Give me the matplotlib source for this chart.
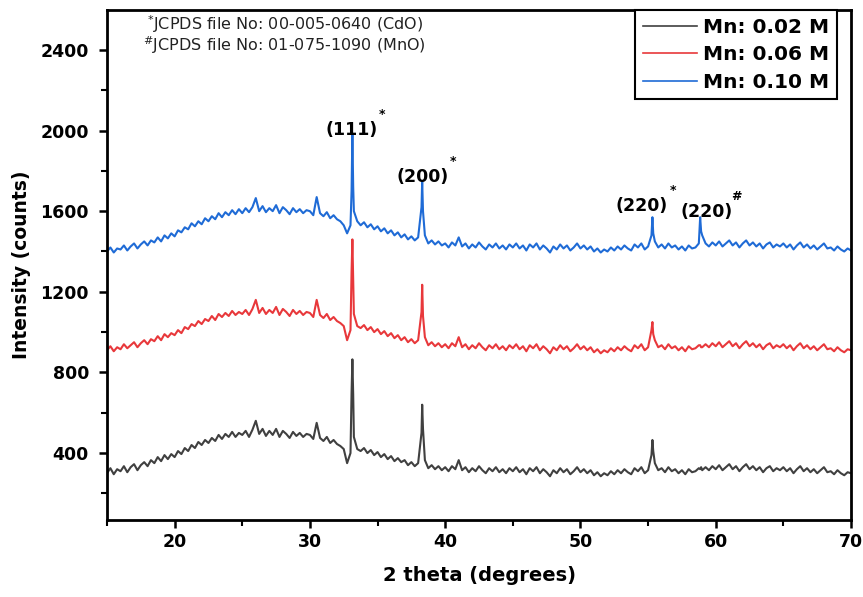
import numpy as np
import matplotlib
matplotlib.use("Agg")
import matplotlib.pyplot as plt
from matplotlib.ticker import MultipleLocator

# ---------------- data ----------------
two_theta_start = 15.0
two_theta_step = 0.25

blue_010 = [
    1400, 1420, 1395, 1415, 1410, 1430, 1405, 1425, 1440, 1415, 1435, 1450, 1430, 1455, 1445, 1470, 1450, 1480, 1465, 1490,
    1475, 1505, 1495, 1520, 1510, 1540, 1525, 1550, 1535, 1565, 1550, 1575, 1560, 1590, 1570, 1595, 1580, 1605, 1585, 1610,
    1590, 1615, 1595, 1620, 1665, 1600, 1625, 1595, 1615, 1600, 1630, 1590, 1620, 1605, 1585, 1615, 1595, 1610, 1590, 1605,
    1600, 1580, 1670, 1590, 1575, 1595, 1565, 1580, 1560, 1550, 1530, 1490, 1530, 1600, 1550, 1530, 1545, 1520, 1535, 1510,
    1525, 1500, 1515, 1490, 1505, 1480, 1495, 1470, 1485, 1460, 1475, 1455, 1470, 1620, 1480, 1440, 1455, 1435, 1450, 1430,
    1440, 1420, 1445, 1430, 1470, 1425, 1440, 1415, 1435, 1420, 1445, 1425, 1410, 1435, 1420, 1440, 1415, 1430, 1410, 1435,
    1420, 1440, 1415, 1430, 1405, 1435, 1420, 1440, 1410, 1430, 1415, 1395, 1425, 1410, 1435, 1415, 1430, 1405, 1420, 1440,
    1415, 1430, 1410, 1425, 1400, 1415, 1395, 1410, 1400, 1420, 1405, 1425, 1410, 1430, 1415, 1405, 1435, 1420, 1440, 1410,
    1425, 1480, 1450, 1420, 1435, 1415, 1440, 1420, 1430, 1410, 1425, 1405, 1430, 1415, 1420, 1440, 1480, 1440, 1425, 1445,
    1430, 1450, 1425, 1440, 1455, 1430, 1445, 1420, 1440, 1455, 1430, 1445, 1425, 1440, 1415, 1435, 1445, 1420, 1435, 1425,
    1440, 1420, 1435, 1410, 1430, 1445, 1420, 1435, 1415, 1430, 1410, 1425, 1440, 1415, 1420, 1405, 1425, 1410, 1400, 1415,
    1405,
]

red_006 = [
    910, 930, 905, 925, 915, 940, 920, 935, 950, 925, 945, 960, 940, 965, 955, 980, 960, 990, 975, 995,
    985, 1010, 995, 1025, 1015, 1040, 1030, 1055, 1040, 1065, 1055, 1080, 1060, 1090, 1075, 1095, 1080, 1105, 1085, 1100,
    1090, 1110, 1085, 1115, 1160, 1095, 1120, 1090, 1110, 1095, 1125, 1085, 1115, 1100, 1080, 1110, 1090, 1105, 1085, 1100,
    1095, 1075, 1160, 1085, 1070, 1090, 1060, 1075, 1055, 1045, 1030, 960, 1010, 1090, 1030, 1020, 1035, 1010, 1025, 1000,
    1015, 990, 1005, 980, 995, 970, 985, 960, 975, 950, 965, 945, 960, 1100, 975, 935, 950, 930, 945, 925,
    940, 920, 945, 930, 975, 925, 940, 915, 935, 920, 945, 925, 910, 935, 920, 940, 915, 930, 910, 935,
    920, 940, 915, 930, 905, 935, 920, 940, 910, 930, 915, 895, 925, 910, 935, 915, 930, 905, 920, 940,
    915, 930, 910, 925, 900, 915, 895, 910, 900, 920, 905, 925, 910, 930, 915, 905, 935, 920, 940, 910,
    925, 1010, 960, 925, 935, 915, 940, 920, 930, 910, 925, 905, 930, 915, 920, 935, 925, 940, 925, 945,
    930, 950, 925, 940, 955, 930, 945, 920, 940, 955, 930, 945, 925, 940, 915, 935, 945, 920, 935, 925,
    940, 920, 935, 910, 930, 945, 920, 935, 915, 930, 910, 925, 940, 915, 920, 905, 925, 910, 900, 915,
    910,
]

black_002 = [
    300, 325, 295, 320, 310, 335, 305, 330, 345, 315, 340, 355, 335, 365, 350, 380, 360, 390, 370, 395,
    380, 410, 395, 425, 410, 440, 425, 455, 440, 465, 450, 475, 460, 490, 470, 495, 480, 505, 480, 500,
    490, 510, 480, 515, 560, 495, 520, 485, 510, 490, 520, 480, 510, 495, 475, 505, 485, 500, 480, 495,
    490, 470, 550, 475, 460, 480, 450, 465, 445, 435, 420, 350, 400, 480, 420, 410, 425, 400, 415, 390,
    405, 380, 395, 370, 385, 360, 375, 355, 365, 340, 355, 335, 350, 500, 365, 325, 340, 320, 335, 315,
    330, 310, 335, 320, 365, 315, 330, 305, 325, 310, 335, 315, 300, 325, 310, 330, 305, 320, 300, 325,
    310, 330, 305, 320, 295, 325, 310, 330, 300, 320, 305, 285, 315, 300, 325, 305, 320, 295, 310, 330,
    305, 320, 300, 315, 290, 305, 285, 300, 290, 310, 295, 315, 300, 320, 305, 295, 325, 310, 330, 300,
    315, 390, 350, 315, 325, 305, 330, 310, 320, 300, 315, 295, 320, 305, 310, 325, 315, 330, 315, 335,
    320, 340, 315, 330, 345, 320, 335, 310, 330, 345, 320, 335, 315, 330, 305, 325, 335, 310, 325, 315,
    330, 310, 325, 300, 320, 335, 310, 325, 305, 320, 300, 315, 330, 305, 310, 295, 315, 300, 290, 305,
    300,
]

# sharp reflection points (positions and intensities)
peak_x = [33.08, 33.14, 33.20, 38.30, 38.36, 55.32, 55.38, 58.85, 58.92]
peak_blue = [1700, 1985, 1720, 1748, 1600, 1570, 1490, 1570, 1500]
peak_red = [1300, 1460, 1250, 1235, 1080, 1050, 990, 935, 925]
peak_black = [700, 865, 690, 640, 520, 465, 410, 320, 330]

series_labels = ["Mn: 0.02 M", "Mn: 0.06 M", "Mn: 0.10 M"]
series_colors = ["#404040", "#e8383b", "#1f6bd6"]

peak_labels = ["(111)", "(200)", "(220)", "(220)"]
peak_marks = ["*", "*", "*", "#"]
peak_label_x = [33.1, 38.3, 54.55, 59.3]
peak_label_y = [2005, 1772, 1628, 1598]

jcpds_lines = [r"$^{*}$JCPDS file No: 00-005-0640 (CdO)",
               r"$^{\#}$JCPDS file No: 01-075-1090 (MnO)"]

# ---------------- build series ----------------
n = len(blue_010)
grid_x = two_theta_start + two_theta_step * np.arange(n)

def merged(base, peaks):
    x = np.concatenate([grid_x, np.array(peak_x)])
    y = np.concatenate([np.array(base, float), np.array(peaks, float)])
    order = np.argsort(x, kind="stable")
    return x[order], y[order]

data = [merged(black_002, peak_black), merged(red_006, peak_red), merged(blue_010, peak_blue)]

# ---------------- figure ----------------
plt.rcParams["font.family"] = ["DejaVu Sans"]
plt.rcParams["mathtext.fontset"] = "dejavusans"

fig = plt.figure(figsize=(8.63, 5.97), dpi=100)
ax = fig.add_axes([107 / 863, 1 - 520 / 597, (851 - 107) / 863, (520 - 10) / 597])

for (x, y), lab, col in zip(data, series_labels, series_colors):
    ax.plot(x, y, color=col, lw=1.5, label=lab)

ax.set_xlim(15, 70)
ax.set_ylim(68, 2598)
ax.xaxis.set_major_locator(MultipleLocator(10))
ax.xaxis.set_minor_locator(MultipleLocator(5))
ax.set_yticks([400, 800, 1200, 1600, 2000, 2400])
ax.yaxis.set_minor_locator(MultipleLocator(200))
ax.tick_params(which="major", direction="out", length=6, width=1.8, labelsize=12.5)
ax.tick_params(axis="y", which="major", pad=7)
ax.tick_params(which="minor", direction="out", length=4, width=1.5)
for lab in ax.get_xticklabels() + ax.get_yticklabels():
    lab.set_fontweight("bold")
for sp in ax.spines.values():
    sp.set_linewidth(2.0)

ax.set_xlabel("2 theta (degrees)", fontsize=14, fontweight="bold", labelpad=11)
ax.set_ylabel("Intensity (counts)", fontsize=13.5, fontweight="bold", labelpad=7)

# peak labels
for px, py, t, m in zip(peak_label_x, peak_label_y, peak_labels, peak_marks):
    ax.text(px, py, t, ha="center", va="center", fontsize=12.5, fontweight="bold")
    ax.annotate(m, xy=(px, py), xytext=(22, 11), textcoords="offset points",
                ha="center", va="center", fontsize=9, fontweight="bold")

# JCPDS notes
ax.text(0.239, (520 - 24) / 510, jcpds_lines[0], transform=ax.transAxes, ha="center", va="center",
        fontsize=11.5, color="#222222")
ax.text(0.239, (520 - 45) / 510, jcpds_lines[1], transform=ax.transAxes, ha="center", va="center",
        fontsize=11.5, color="#222222")

leg = ax.legend(loc="upper right", bbox_to_anchor=((837 - 107) / 744, 1.0), borderaxespad=0,
                fancybox=False, frameon=True, edgecolor="black", handlelength=2.7,
                handletextpad=0.3, labelspacing=0.42, borderpad=0.38,
                prop={"weight": "bold", "size": 14.5})
leg.get_frame().set_linewidth(1.5)
leg.get_frame().set_alpha(1)
for h in leg.get_lines():
    h.set_linewidth(1.2)

fig.savefig("out.png", dpi=100)
